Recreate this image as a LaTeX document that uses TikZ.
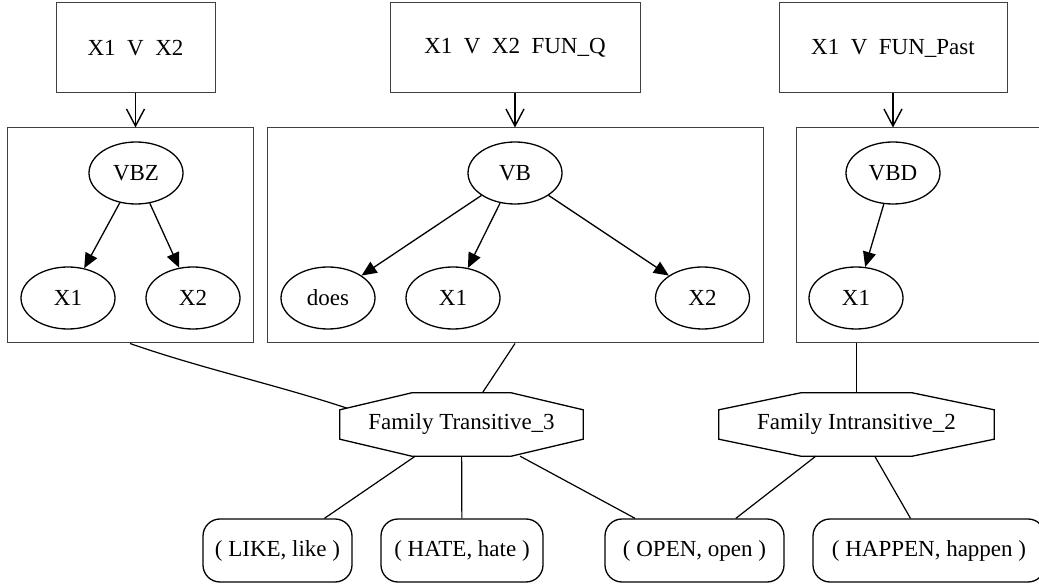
\documentclass[tikz,border=0pt]{standalone}
\usepackage{fontspec}
\setmainfont{Liberation Serif}
\usetikzlibrary{arrows.meta,shapes.geometric,calc}

% octagonal outline around a named node: node, chamfer in x, chamfer in y
\newcommand\drawoctagon[3]{%
  \draw[line width=1.3pt]
    ($(#1.north west)+(#2,0)$) -- ($(#1.north east)+(-#2,0)$)
    -- ($(#1.north east)+(0,#3)$) -- ($(#1.south east)+(0,-#3)$)
    -- ($(#1.south east)+(-#2,0)$) -- ($(#1.south west)+(#2,0)$)
    -- ($(#1.south west)+(0,-#3)$) -- ($(#1.north west)+(0,#3)$) -- cycle;}

\begin{document}
\begin{tikzpicture}[x=1pt,y=-1pt,
  every node/.style={font=\fontsize{23}{27}\selectfont, inner sep=0pt},
  pattern/.style={draw=black!75, line width=1pt, minimum height=90pt},
  cluster/.style={draw=black!75, line width=1pt, minimum height=215pt},
  tag/.style={draw, ellipse, line width=1.3pt, minimum width=94pt, minimum height=62pt},
  family/.style={rectangle, minimum height=63pt},
  pair/.style={draw, rounded corners=17pt, line width=1.3pt, minimum height=63pt},
  link/.style={line width=1.2pt},
  tree/.style={line width=1.3pt, -{Triangle[length=15pt,width=13pt]}},
  feed/.style={line width=1.3pt, -{Straight Barb[length=17pt,width=18pt,line width=1.4pt]}},
]
\useasboundingbox (0,0) rectangle (1039,585);
\clip (0,0) rectangle (1039,585);

% surface patterns
\node[pattern, minimum width=159pt] (p1) at (135.5,48) {X1\ \ V\ \ X2};
\node[pattern, minimum width=250pt] (p2) at (515,48) {X1\ \ V\ \ X2\ \ FUN\_Q};
\node[pattern, minimum width=228pt] (p3) at (893,48) {X1\ \ V\ \ FUN\_Past};

% tree clusters
\node[cluster, minimum width=246pt] (ca) at (130,235.5) {};
\node[cluster, minimum width=496pt] (cb) at (515,235.5) {};
\node[cluster, minimum width=254pt] (cc) at (923,235.5) {};

\draw[feed] (p1.south) -- (p1.south |- ca.north);
\draw[feed] (p2.south) -- (p2.south |- cb.north);
\draw[feed] (p3.south) -- (p3.south |- cc.north);

% first tree
\node[tag] (vbz) at (136,173) {VBZ};
\node[tag] (a1) at (68,298) {X1};
\node[tag] (a2) at (193,298) {X2};
\draw[tree] (vbz) -- (a1);
\draw[tree] (vbz) -- (a2);

% second tree
\node[tag] (vb) at (515,173) {VB};
\node[tag] (does) at (328,298) {does};
\node[tag] (b1) at (453,298) {X1};
\node[tag] (b2) at (702.5,298) {X2};
\draw[tree] (vb) -- (does);
\draw[tree] (vb) -- (b1);
\draw[tree] (vb) -- (b2);

% third tree
\node[tag] (vbd) at (893,173) {VBD};
\node[tag] (c1) at (856,298) {X1};
\draw[tree] (vbd) -- (c1);

% families
\node[family, minimum width=243pt] (ft) at (461.5,424.5) {Family Transitive\_3};
\node[family, minimum width=275pt] (fi) at (856.5,424.5) {Family Intransitive\_2};
\drawoctagon{ft}{72}{17}
\drawoctagon{fi}{82}{17}

\draw[link] (ca.south) .. controls (200,368) and (277,385) .. ($(ft.north west)+(7,15.3)$);
\draw[link] (cb.south) -- (ft);
\draw[link] (fi.north) -- (fi.north |- cc.south);

% lexical pairs
\node[pair, minimum width=149pt] (like) at (277.5,550.5) {( LIKE, like )};
\node[pair, minimum width=162pt] (hate) at (462,550.5) {( HATE, hate )};
\node[pair, minimum width=179pt] (open) at (694.5,550.5) {( OPEN, open )};
\node[pair, minimum width=232pt] (happen) at (929,550.5) {( HAPPEN, happen )};

\draw[link] (ft) -- (like);
\draw[link] (ft) -- (hate);
\draw[link] (ft) -- (open);
\draw[link] (fi) -- (open);
\draw[link] (fi) -- (happen);
\end{tikzpicture}
\end{document}
